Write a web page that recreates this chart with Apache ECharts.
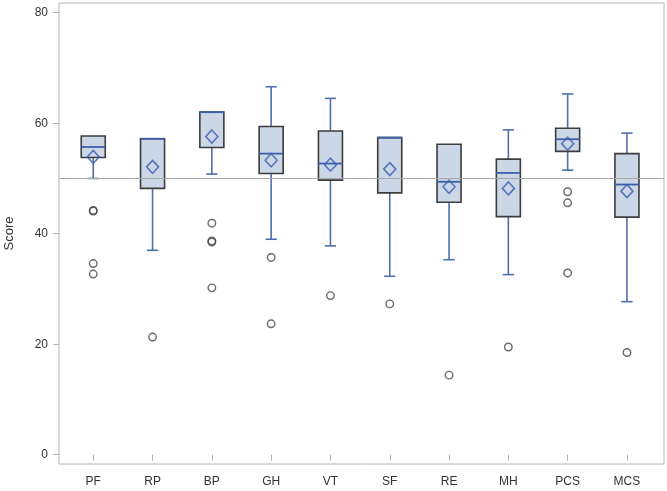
<!DOCTYPE html>
<html>
<head>
<meta charset="utf-8">
<script src="https://cdn.jsdelivr.net/npm/echarts@6/dist/echarts.min.js"></script>
<style>html,body{margin:0;padding:0;background:#fff}#c{width:667px;height:491px}</style>
</head>
<body>
<div id="c"></div>
<script>
const categories = ['PF','RP','BP','GH','VT','SF','RE','MH','PCS','MCS'];
const lowWhisker  = [50.0, 37.0, 50.8, 39.0, 37.8, 32.3, 35.3, 32.6, 51.5, 27.7];
const q1          = [53.8, 48.2, 55.6, 50.9, 49.7, 47.4, 45.7, 43.1, 54.9, 43.0];
const medians     = [55.7, 57.2, 62.0, 54.5, 52.7, 57.4, 49.4, 51.0, 57.1, 48.9];
const q3          = [57.7, 57.2, 62.0, 59.4, 58.6, 57.4, 56.2, 53.5, 59.1, 54.5];
const highWhisker = [57.7, 57.2, 62.0, 66.6, 64.5, 57.4, 56.2, 58.8, 65.3, 58.2];
const means       = [53.9, 52.1, 57.6, 53.3, 52.5, 51.7, 48.5, 48.2, 56.3, 47.7];
const outliers = [
  [44.2, 44.1, 34.6, 32.7],
  [21.3],
  [41.9, 38.7, 38.5, 30.2],
  [35.7, 23.7],
  [28.8],
  [27.3],
  [14.4],
  [19.5],
  [47.6, 45.6, 32.9],
  [18.5]
];
const yTickValues = [0, 20, 40, 60, 80];
const referenceValue = 50;
const yMin = -1.68, yMax = 81.76;

const boxData = categories.map((c, i) => [i, lowWhisker[i], q1[i], medians[i], q3[i], highWhisker[i]]);
const meanData = categories.map((c, i) => [i, means[i]]);
const outlierData = [];
outliers.forEach((arr, i) => arr.forEach(v => outlierData.push([i, v])));

const BOX_FILL = '#cbd6e7', BOX_EDGE = '#3c3c3c', WHISK = '#4f6fae', MED = '#3d5fa8';

function renderBox(params, api) {
  const x = api.value(0);
  const lo = api.coord([x, api.value(1)]);
  const b1 = api.coord([x, api.value(2)]);
  const md = api.coord([x, api.value(3)]);
  const b3 = api.coord([x, api.value(4)]);
  const hi = api.coord([x, api.value(5)]);
  const band = api.size([1, 0])[0];
  const bw = band * 0.405;
  const cw = band * 0.19;
  const cx = lo[0];
  const kids = [];
  if (Math.abs(lo[1] - b1[1]) > 0.5) {
    kids.push({type:'line', shape:{x1:cx, y1:b1[1], x2:cx, y2:lo[1]}, style:{stroke:WHISK, lineWidth:1.6}});
    kids.push({type:'line', shape:{x1:cx-cw/2, y1:lo[1], x2:cx+cw/2, y2:lo[1]}, style:{stroke:WHISK, lineWidth:1.6}});
  }
  if (Math.abs(hi[1] - b3[1]) > 0.5) {
    kids.push({type:'line', shape:{x1:cx, y1:b3[1], x2:cx, y2:hi[1]}, style:{stroke:WHISK, lineWidth:1.6}});
    kids.push({type:'line', shape:{x1:cx-cw/2, y1:hi[1], x2:cx+cw/2, y2:hi[1]}, style:{stroke:WHISK, lineWidth:1.6}});
  }
  kids.push({type:'rect', shape:{x:cx-bw/2, y:b3[1], width:bw, height:b1[1]-b3[1]}, style:{fill:BOX_FILL, stroke:BOX_EDGE, lineWidth:1.6}});
  kids.push({type:'line', shape:{x1:cx-bw/2, y1:md[1], x2:cx+bw/2, y2:md[1]}, style:{stroke:MED, lineWidth:1.8}});
  return {type:'group', children:kids};
}

const chart = echarts.init(document.getElementById('c'), null, {renderer:'canvas'});
chart.setOption({
  animation: false,
  backgroundColor: '#fff',
  textStyle: {fontFamily: 'Liberation Sans, Arial, sans-serif'},
  grid: [
    {left: 59, right: 3, top: 3, bottom: 27, show: true, borderColor: '#b4b4b4', borderWidth: 1, backgroundColor: 'transparent', containLabel: false, outerBoundsMode: 'none'},
    {left: 63.6, right: 10.4, top: 3, bottom: 27, containLabel: false, outerBoundsMode: 'none'}
  ],
  xAxis: [
    {gridIndex: 0, type: 'value', min: 0, max: 1, show: false},
    {gridIndex: 1, type: 'category', data: categories, boundaryGap: true,
     axisLine: {show: false},
     axisTick: {show: true, alignWithLabel: true, length: 6, lineStyle: {color: '#b4b4b4'}},
     axisLabel: {color: '#333', fontSize: 12, margin: 12, interval: 0},
     splitLine: {show: false}}
  ],
  yAxis: [
    {gridIndex: 0, type: 'value', min: yMin, max: yMax,
     name: 'Score', nameLocation: 'middle', nameRotate: 90, nameGap: 43,
     nameTextStyle: {color: '#333', fontSize: 13},
     axisLine: {show: false},
     axisTick: {show: true, length: 6, customValues: yTickValues, lineStyle: {color: '#b4b4b4'}},
     axisLabel: {color: '#333', fontSize: 12, margin: 11, customValues: yTickValues},
     splitLine: {show: false}},
    {gridIndex: 1, type: 'value', min: yMin, max: yMax, show: false, splitLine: {show: false}}
  ],
  series: [
    {type: 'line', xAxisIndex: 0, yAxisIndex: 0, data: [], silent: true,
     markLine: {silent: true, symbol: 'none', label: {show: false},
       lineStyle: {color: '#a8a8a8', width: 1.2, type: 'solid'},
       data: [{yAxis: referenceValue}]}},
    {type: 'custom', xAxisIndex: 1, yAxisIndex: 1, data: boxData, renderItem: renderBox,
     encode: {x: 0, y: [1, 2, 3, 4, 5]}, z: 3},
    {type: 'scatter', xAxisIndex: 1, yAxisIndex: 1, data: meanData, symbol: 'diamond', symbolSize: [12, 13], z: 5,
     itemStyle: {color: 'rgba(0,0,0,0)', borderColor: '#3a5cb0', borderWidth: 1.6}},
    {type: 'scatter', xAxisIndex: 1, yAxisIndex: 1, data: outlierData, symbol: 'circle', symbolSize: 7.5, z: 5,
     itemStyle: {color: 'rgba(0,0,0,0)', borderColor: '#444', borderWidth: 1.4}}
  ]
});
</script>
</body>
</html>
